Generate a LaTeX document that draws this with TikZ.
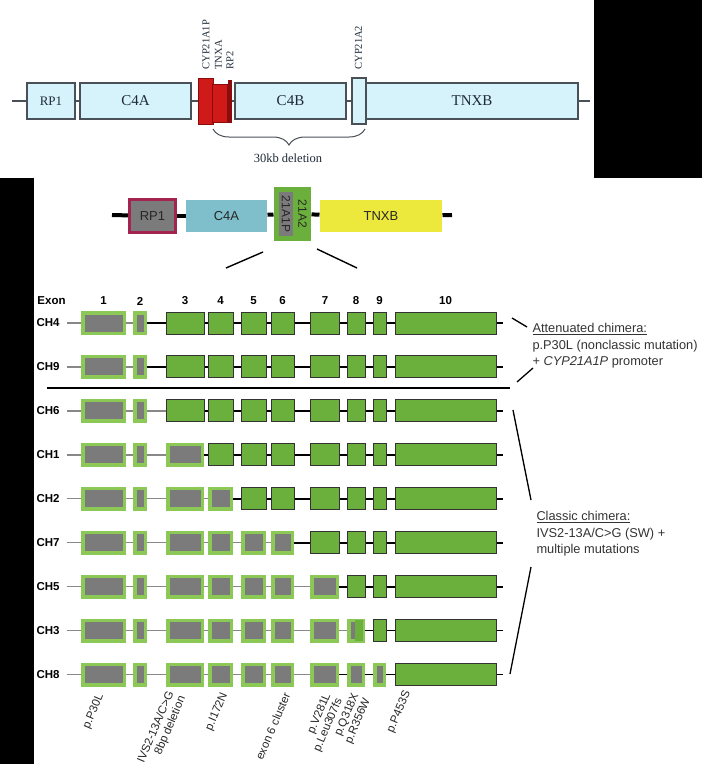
\documentclass[tikz,border=0pt]{standalone}
\usepackage{fontspec}
\setmainfont{Liberation Sans}
\newfontfamily\serifrm{Liberation Serif}
\usetikzlibrary{positioning, decorations.pathreplacing, backgrounds}
\definecolor{cpale}{HTML}{D6F2FA}
\definecolor{cedge}{HTML}{4A5058}
\definecolor{cred}{HTML}{D01A1A}
\definecolor{cdred}{HTML}{8A0C0C}
\definecolor{cnavy}{HTML}{1E2A38}
\definecolor{cgrey}{HTML}{7B7B7B}
\definecolor{cgreen}{HTML}{6BB03D}
\definecolor{cglow}{HTML}{8CC856}
\definecolor{cteal}{HTML}{7FBFCB}
\definecolor{cyellow}{HTML}{EDE93C}
\definecolor{ccrimson}{HTML}{A52350}
\definecolor{ctext}{HTML}{333333}
\tikzset{
  every picture/.style={x=1pt, y=-1pt, line width=1pt},
  topbox/.style={draw=cedge, fill=cpale, line width=1.1pt, inner sep=0pt, minimum height=36pt, font=\serifrm\fontsize{15}{15}\selectfont, text=cnavy},
  redbox/.style={draw=cdred, fill=cred, line width=1pt, inner sep=0pt},
  toplab/.style={font=\serifrm\fontsize{10.5}{10.5}\selectfont, rotate=90, anchor=west, inner sep=0pt, text=cnavy},
  midbox/.style={fill=#1, inner sep=0pt, minimum height=32pt, font=\fontsize{13}{13}\selectfont, text=black!85},
  exon/.style={draw=black!80, fill=cgreen, line width=1pt, inner sep=0pt, minimum height=22pt, minimum width=#1},
  pseudo/.style={draw=cglow, fill=cgrey, line width=3.5pt, inner sep=0pt, minimum height=20.5pt, minimum width=#1-3.5},
  intron/.style={draw=black, line width=1.6pt},
  pintron/.style={draw=cgrey!90, line width=1.3pt},
  rowlab/.style={font=\bfseries\fontsize{11.5}{11.5}\selectfont, anchor=west, inner sep=0pt},
  mutlab/.style={font=\fontsize{11.5}{12.5}\selectfont, rotate=67, anchor=east, align=right, inner sep=0pt, text=black!85},
  note/.style={font=\fontsize{12.8}{16.5}\selectfont, align=left, anchor=west, inner sep=0pt, text=ctext},
}
\begin{document}
\begin{tikzpicture}
  \useasboundingbox (0,0) rectangle (702,764);
  \fill[black] (594,0) rectangle (702,178);
  \fill[black] (0,178) rectangle (34,764);

  % locus as first drawn
  \coordinate (t-s) at (12,101);
  \coordinate (t-e) at (590,101);
  \node[topbox, minimum width=48pt, font=\serifrm\fontsize{13}{13}\selectfont] (t-rp1) at (51,101) {RP1};
  \node[topbox, minimum width=111pt] (t-c4a) at (135.5,101) {C4A};
  \node[redbox, minimum width=15pt, minimum height=46pt] (t-1p) at (205.5,101) {};
  \node[redbox, minimum width=15pt, minimum height=38pt] (t-tnxa) at (219.5,103) {};
  \node[redbox, fill=cdred, minimum width=3pt, minimum height=42pt] (t-rp2) at (229.5,101) {};
  \node[topbox, minimum width=111pt] (t-c4b) at (290.5,101) {C4B};
  \node[topbox, minimum width=14pt, minimum height=46pt] (t-cyp) at (359,101) {};
  \node[topbox, minimum width=212pt] (t-tnxb) at (472,101) {TNXB};
  \foreach \a/\b in {t-s/t-rp1, t-rp1/t-c4a, t-c4a/t-1p, t-rp2/t-c4b, t-c4b/t-cyp, t-tnxb/t-e}
    \draw[cedge, line width=1.5pt] (\a) -- (\b);
  \node[toplab] (l-1p) at (206,70) {CYP21A1P};
  \node[toplab] (l-tnxa) at (218.5,70) {TNXA};
  \node[toplab] (l-rp2) at (230,70) {RP2};
  \node[toplab] (l-cyp) at (358.5,70) {CYP21A2};
  \coordinate (b-l) at (213,129);
  \coordinate (b-r) at (365,129);
  \draw[cedge, decorate, decoration={brace, mirror, amplitude=16pt}] (b-l) -- (b-r);
  \node[font=\serifrm\fontsize{12.5}{12.5}\selectfont, text=cnavy] (del) at (288,158) {30kb deletion};

  % locus, second drawing
  \coordinate (m-s) at (112,215);
  \coordinate (m-e) at (452,215);
  \node[midbox=cgrey, draw=ccrimson, line width=3pt, minimum width=46pt, minimum height=33pt] (m-rp1) at (152.5,216) {RP1};
  \node[midbox=cteal, minimum width=81pt] (m-c4a) at (226.5,216) {C4A};
  \node[midbox=cgreen, minimum width=37pt, minimum height=54pt] (m-cyp) at (292.5,214) {};
  \node[midbox=cgrey, rotate=-90, minimum width=44pt, minimum height=14pt, font=\fontsize{12}{12}\selectfont] (m-1p) at (286,214) {21A1P};
  \node[rotate=-90, inner sep=0pt, font=\fontsize{12}{12}\selectfont, text=black!85] (m-2) at (302.5,214) {21A2};
  \node[midbox=cyellow, minimum width=122pt] (m-tnxb) at (381,216) {TNXB};
  \foreach \a/\b in {m-s/m-rp1, m-rp1/m-c4a, m-c4a/m-cyp, m-cyp/m-tnxb, m-tnxb/m-e}
    \draw[line width=4pt] (\a) -- (\b);
  \coordinate (z-1a) at (263,252);
  \coordinate (z-1b) at (226,268);
  \coordinate (z-2a) at (317,249);
  \coordinate (z-2b) at (357,268);
  \draw[line width=1.4pt] (z-1a) -- (z-1b);
  \draw[line width=1.4pt] (z-2a) -- (z-2b);

  % exons of the chimeras
  \node[rowlab] (exon) at (37,301) {Exon};
  \foreach \n/\x in {1/103.5, 2/140, 3/185, 4/220.5, 5/253.5, 6/282.5, 7/325, 8/356, 9/379.5, 10/445.5}
    \node[font=\bfseries\fontsize{11.5}{11.5}\selectfont] (n\n) at (\x,301) {\n};

  \newcommand{\chrow}[4]{% #1 row, #2 name, #3 grey exons, #4 grey introns
    \pgfmathsetmacro{\ry}{323+(#1-1)*43.95}
    \node[rowlab] (lab#1) at (36,\ry) {#2};
    \coordinate (s#1) at (67,\ry);
    \coordinate (e#1) at (503,\ry);
    \foreach \l/\r [count=\k] in {81/126, 133/147, 166/204, 208/233, 241/266, 271/294, 310/339, 347/365, 373/386, 395/496} {
      \pgfmathsetmacro{\w}{\r-\l}
      \ifnum\k>#3\relax
        \node[exon=\w] (x#1-\k) at ({(\l+\r)/2},\ry) {};
      \else
        \node[pseudo=\w] (x#1-\k) at ({(\l+\r)/2},\ry) {};
      \fi
    }
    \begin{scope}[on background layer]
      \draw[pintron] (s#1) -- (x#1-1);
      \foreach \k [evaluate=\k as \nx using {int(\k+1)}] in {1,...,9} {
        \ifnum\k>#4\relax
          \draw[intron] (x#1-\k) -- (x#1-\nx);
        \else
          \draw[pintron] (x#1-\k) -- (x#1-\nx);
        \fi
      }
      \draw[intron] (x#1-10) -- (e#1);
    \end{scope}
  }
  \chrow{1}{CH4}{2}{1}
  \chrow{2}{CH9}{2}{1}
  \chrow{3}{CH6}{2}{2}
  \chrow{4}{CH1}{3}{2}
  \chrow{5}{CH2}{4}{3}
  \chrow{6}{CH7}{6}{5}
  \chrow{7}{CH5}{7}{6}
  \chrow{8}{CH3}{8}{7}
  \chrow{9}{CH8}{9}{6}
  \fill[cgreen] ([xshift=8pt, yshift=-1.75pt]x8-8.north west) rectangle ([xshift=-1.75pt, yshift=1.75pt]x8-8.south east);

  \coordinate (sep-l) at (47,388);
  \coordinate (sep-r) at (510,388);
  \draw[line width=2pt] (sep-l) -- (sep-r);

  % the two groups
  \coordinate (a-1) at (512,318);
  \coordinate (a-2) at (527,327);
  \coordinate (a-3) at (517,382);
  \coordinate (a-4) at (533,368);
  \draw[line width=1.3pt] (a-1) -- (a-2);
  \draw[line width=1.3pt] (a-3) -- (a-4);
  \node[note] (att) at (532,346) {\underline{Attenuated chimera:}\\p.P30L (nonclassic mutation)\\+ \textit{CYP21A1P} promoter};
  \coordinate (c-1) at (513,410);
  \coordinate (c-2) at (531,500);
  \coordinate (c-3) at (531,567);
  \coordinate (c-4) at (510,674);
  \draw[line width=1.3pt] (c-1) -- (c-2);
  \draw[line width=1.3pt] (c-3) -- (c-4);
  \node[note] (cls) at (536,534) {\underline{Classic chimera:}\\IVS2-13A/C>G (SW) +\\multiple mutations};

  \node[mutlab] (mu1) at (101,694) {p.P30L};
  \node[mutlab] (mu2) at (177,694) {IVS2-13A/C>G\\8bp deletion};
  \node[mutlab] (mu3) at (225,693) {p.I172N};
  \node[mutlab] (mu4) at (287,693) {exon 6 cluster};
  \node[mutlab] (mu5) at (334,696) {p.V281L\\p.Leu307fs};
  \node[mutlab] (mu6) at (362,696) {p.Q318X\\p.R356W};
  \node[mutlab] (mu7) at (408,691) {p.P453S};
\end{tikzpicture}
\end{document}
